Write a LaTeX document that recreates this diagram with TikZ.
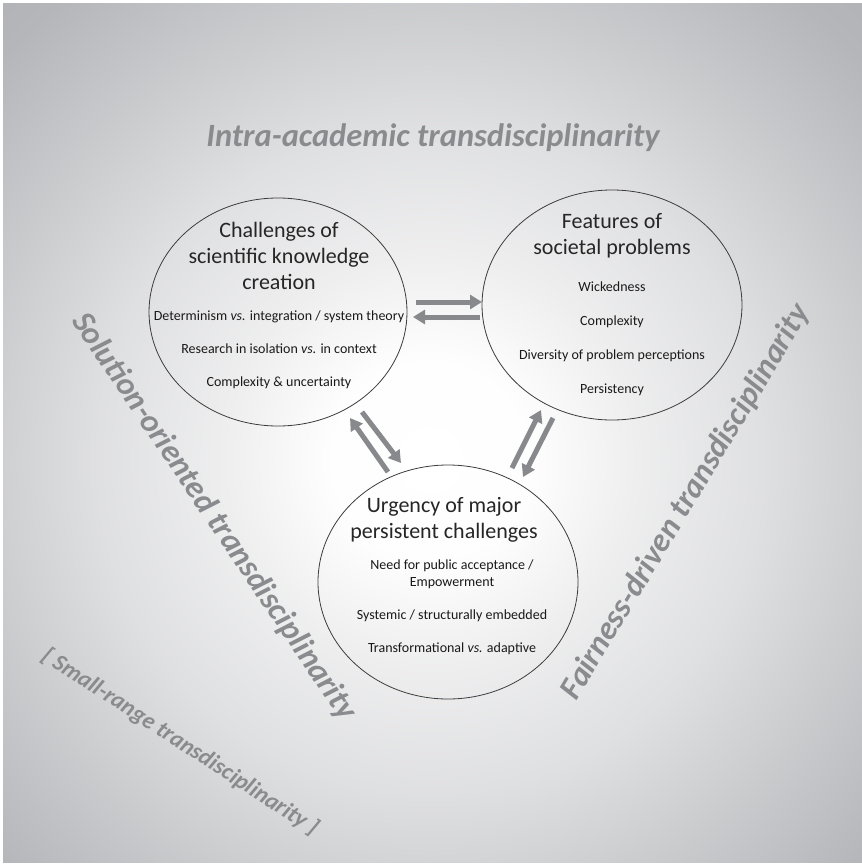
\documentclass[tikz,border=0pt]{standalone}
\usepackage{fontspec}
\setmainfont{Carlito}
\usetikzlibrary{arrows.meta, shapes.geometric}

\definecolor{bggray}{RGB}{178,179,183}
\definecolor{labelgray}{RGB}{138,139,142}
\definecolor{arrowgray}{RGB}{136,137,140}
\definecolor{rimgray}{RGB}{60,60,60}

% the path box covers the inner 50bp, so the rim sits at 25bp
\pgfdeclareradialshading{bgshade}{\pgfpoint{0bp}{0bp}}{%
  color(0bp)=(white); color(4bp)=(white!98!bggray); color(8bp)=(white!78!bggray);
  color(13bp)=(white!59!bggray); color(18bp)=(white!31!bggray); color(23bp)=(white!4!bggray);
  color(25bp)=(bggray); color(50bp)=(bggray)}

\tikzset{
  bubble/.style={draw=rimgray, line width=0.8pt, ellipse, inner sep=0pt},
  headtext/.style={align=center, text=black!85, font=\fontsize{22}{26}\selectfont},
  itemtext/.style={align=center, text=black!90, font=\fontsize{14}{17}\selectfont},
  biglabel/.style={text=labelgray, font=\fontsize{32.5}{36}\selectfont\bfseries\itshape},
  flow/.style={draw=arrowgray, line width=5pt, -{Triangle[width=14pt,length=12pt]}}
}

\begin{document}
\begin{tikzpicture}[x=1pt, y=-1pt]
    \useasboundingbox (0,0) rectangle (862,865);
    % background with radial fade
    \fill[white] (0,0) rectangle (862,865);
    \begin{scope}
        \clip (3,3) rectangle (862,862);
        \shade[shading=bgshade] (430,460) circle (640);
    \end{scope}

    % the three bubbles
    \node[bubble, minimum width=258, minimum height=228] (know) at (278,312) {};
    \node[bubble, minimum width=260, minimum height=230] (society) at (612,305) {};
    \node[bubble, minimum width=260, minimum height=234] (urgency) at (448,582) {};

    % texts inside the bubbles
    \node[headtext] (knowhead) at (279,256) {Challenges of\\ scientific knowledge\\ creation};
    \node[itemtext] (knowitems) at (279,350) {Determinism \textit{vs.} integration / system theory\\[16pt]
        Research in isolation \textit{vs.} in context\\[16pt] Complexity \& uncertainty};

    \node[headtext] (societyhead) at (612,236) {Features of\\ societal problems};
    \node[itemtext] (societyitems) at (612,339) {Wickedness\\[17pt] Complexity\\[17pt]
        Diversity of problem perceptions\\[17pt] Persistency};

    \node[headtext] (urgencyhead) at (444,520) {Urgency of major\\ persistent challenges};
    \node[itemtext] (urgencyitems) at (452,607) {Need for public acceptance /\\ Empowerment\\[16pt]
        Systemic / structurally embedded\\[16pt] Transformational \textit{vs.} adaptive};

    % arrow ends
    \coordinate (kf-a) at (416,302);  \coordinate (kf-b) at (482,302);
    \coordinate (fk-a) at (480,317);  \coordinate (fk-b) at (413,317);
    \coordinate (uk-a) at (388,472);  \coordinate (uk-b) at (350,418);
    \coordinate (ku-a) at (362,412);  \coordinate (ku-b) at (401,463);
    \coordinate (uf-a) at (512,468);  \coordinate (uf-b) at (541,410);
    \coordinate (fu-a) at (553,418);  \coordinate (fu-b) at (523,477);

    \draw[flow] (kf-a) -- (kf-b);
    \draw[flow] (fk-a) -- (fk-b);
    \draw[flow] (uk-a) -- (uk-b);
    \draw[flow] (ku-a) -- (ku-b);
    \draw[flow] (uf-a) -- (uf-b);
    \draw[flow] (fu-a) -- (fu-b);

    % the kinds of transdisciplinarity
    \node[biglabel] (intra) at (433,138) {Intra-academic transdisciplinarity};
    \node[biglabel, rotate=-56] (solution) at (214,517) {Solution-oriented transdisciplinarity};
    \node[biglabel, rotate=59] (fairness) at (686,502) {Fairness-driven transdisciplinarity};
    \node[biglabel, rotate=-33, font=\fontsize{23.5}{26}\selectfont\bfseries\itshape] (smallrange)
        at (180,742) {[ Small-range transdisciplinarity ]};
\end{tikzpicture}
\end{document}
